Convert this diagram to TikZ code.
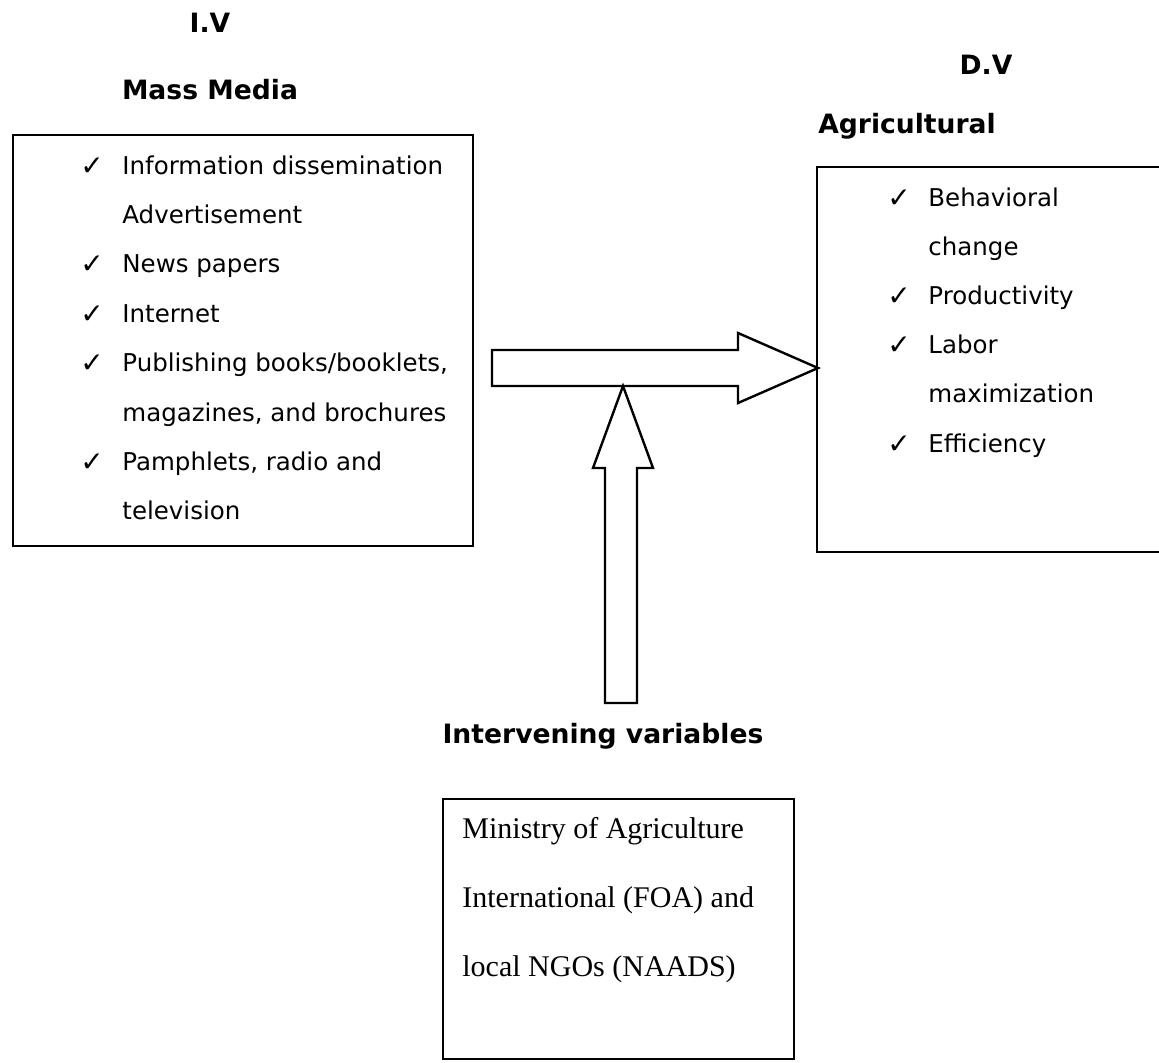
\documentclass[tikz,border=0pt]{standalone}
\usepackage{fontspec}
\setmainfont{DejaVu Sans}
\newfontfamily\timesfont{Liberation Serif}
\usetikzlibrary{positioning}

\tikzset{
	frame/.style={draw, line width=1.2pt, anchor=north west, inner sep=0pt},
	heading/.style={anchor=base, inner sep=0pt, font=\fontsize{13.3}{16}\selectfont\bfseries},
	item/.style={anchor=base west, inner sep=0pt, font=\fontsize{12.25}{15}\selectfont},
	tick/.style={anchor=base west, inner sep=0pt, font=\fontsize{14}{17}\selectfont},
	note/.style={anchor=base west, inner sep=0pt, font=\fontsize{15}{18}\selectfont\timesfont},
	blockarrow/.style={draw, line width=1.2pt, line join=miter, fill=white}
}

\begin{document}
\begin{tikzpicture}[x=0.5pt, y=-0.5pt]
	\useasboundingbox (0,0) rectangle (1159,1062);
	% headings
	\node[heading] (iv) at (210,32) {I.V};
	\node[heading] (mass) at (210,99) {Mass Media};
	\node[heading] (dv) at (986,74) {D.V};
	\node[heading] (agri) at (907,133) {Agricultural};
	\node[heading] (interv) at (603,743) {Intervening variables};
	% boxes
	\node[frame, minimum width=230pt, minimum height=205.5pt] (mediabox) at (12,134) {};
	\node[frame, minimum width=179.5pt, minimum height=192.5pt] (devbox) at (816,166) {};
	\node[frame, minimum width=175.5pt, minimum height=130pt] (intbox) at (442,798) {};
	% mass media list
	\foreach \i/\t in {0/Information dissemination, 1/Advertisement, 2/News papers, 3/Internet,
		4/{Publishing books/booklets,}, 5/{magazines, and brochures}, 6/{Pamphlets, radio and}, 7/television}
		\node[item] (media\i) at (122,174+49.4*\i) {\t};
	\foreach \i in {0,2,3,4,6}
		\node[tick] (mcheck\i) at (80,175+49.4*\i) {✓};
	% agricultural list
	\foreach \i/\t in {0/Behavioral, 1/change, 2/Productivity, 3/Labor, 4/maximization, 5/Efficiency}
		\node[item] (dev\i) at (928,206+49.2*\i) {\t};
	\foreach \i in {0,2,3,5}
		\node[tick] (dcheck\i) at (887,207+49.2*\i) {✓};
	% intervening list
	\foreach \i/\t in {0/Ministry of Agriculture, 1/International (FOA) and, 2/local NGOs (NAADS)}
		\node[note] (int\i) at (462,838+69*\i) {\t};
	% arrows
	\coordinate (hstart) at (492,368);
	\coordinate (htip) at (818,368);
	\coordinate (vstart) at (621,703);
	\coordinate (vtip) at (623,386);
	\draw[blockarrow] (hstart) ++(0,-18) -- ++(246,0) -- ++(0,-17) -- (htip)
		-- ++(-80,35) -- ++(0,-17) -- ++(-246,0) -- cycle;
	\draw[blockarrow] (vstart) ++(-16,0) -- ++(0,-235) -- ++(-12,0) -- (vtip)
		-- ++(30,82) -- ++(-16,0) -- ++(0,235) -- cycle;
\end{tikzpicture}
\end{document}
